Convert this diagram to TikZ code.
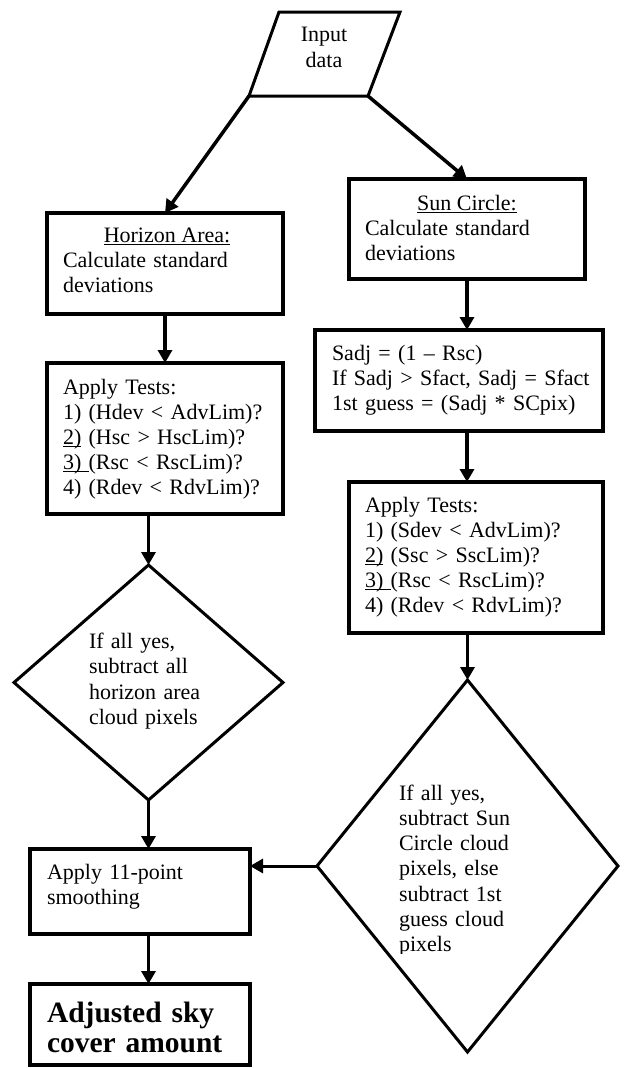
\documentclass[tikz,border=0pt]{standalone}
\usepackage{fontspec}
\setmainfont{Liberation Serif}
\usetikzlibrary{shapes.geometric,arrows.meta}
\newcommand\myul[1]{\leavevmode\setbox0=\hbox{#1}\rlap{\rule[-3pt]{\wd0}{1.5pt}}\box0\relax}
\begin{document}
\begin{tikzpicture}[x=1pt,y=-1pt,
  box/.style={draw, rectangle, line width=3.5pt, inner sep=0pt, outer sep=0pt},
  dia/.style={draw, diamond, line width=3pt, inner sep=0pt, outer sep=0pt},
  txt/.style={inner sep=0pt, outer sep=0pt, anchor=base west, align=left, text width=270pt,
    font=\fontsize{22}{25}\selectfont},
  ttl/.style={inner sep=0pt, outer sep=0pt, anchor=base, font=\fontsize{22}{25}\selectfont},
  arr/.style={line width=3.5pt, -{Triangle[length=13pt,width=14pt]}}
  ]
\useasboundingbox (0,0) rectangle (626,1068);

% input parallelogram
\coordinate (ptl) at (279,12);
\coordinate (ptr) at (400,12);
\coordinate (pbr) at (368,96);
\coordinate (pbl) at (249,96);
\draw[line width=3pt, line join=miter] (ptl) -- (ptr) -- (pbr) -- (pbl) -- cycle;
\node[inner sep=0pt, anchor=base, align=center, text width=100pt, font=\fontsize{22}{26}\selectfont] (intxt) at (324,41) {Input\\data};

% boxes
\node[box, minimum width=236pt, minimum height=101pt] (hor) at (165,263.5) {};
\node[box, minimum width=236pt, minimum height=151pt] (ltest) at (165,438.5) {};
\node[box, minimum width=236pt, minimum height=100pt] (sun) at (467,229) {};
\node[box, minimum width=288pt, minimum height=101pt] (sadj) at (459,380.5) {};
\node[box, minimum width=254pt, minimum height=151pt] (rtest) at (476,557.5) {};
\node[box, minimum width=220pt, minimum height=85pt, line width=3.3pt] (smooth) at (140,891.5) {};
\node[box, minimum width=220pt, minimum height=81pt, line width=3.3pt] (result) at (140,1024.5) {};

% diamonds
\node[dia, minimum width=269pt, minimum height=235pt] (ldia) at (148.5,682.5) {};
\node[dia, minimum width=301pt, minimum height=372pt] (rdia) at (467.5,866) {};

% texts
\node[ttl] (horttl) at (167,242) {\myul{Horizon Area:}};
\node[txt] (hortxt) at (63,267) {Calculate standard\\deviations};
\node[txt] (ltesttxt) at (63,394) {Apply Tests:\\1) (Hdev < AdvLim)?\\\myul{2)} (Hsc > HscLim)?\\\myul{3)\ }(Rsc < RscLim)?\\4) (Rdev < RdvLim)?};
\node[ttl] (sunttl) at (467,210) {\myul{Sun Circle:}};
\node[txt] (suntxt) at (365,235) {Calculate standard\\deviations};
\node[txt] (sadjtxt) at (332,360) {Sadj = (1 -- Rsc)\\If Sadj > Sfact, Sadj = Sfact\\1st guess = (Sadj * SCpix)};
\node[txt] (rtesttxt) at (365,512) {Apply Tests:\\1) (Sdev < AdvLim)?\\\myul{2)} (Ssc > SscLim)?\\\myul{3)\ }(Rsc < RscLim)?\\4) (Rdev < RdvLim)?};
\node[txt, font=\fontsize{22}{25.5}\selectfont] (ldiatxt) at (89,648) {If all yes,\\subtract all\\horizon area\\cloud pixels};
\begin{scope}
\clip (300,700) rectangle (620,953);
\node[txt, font=\fontsize{22}{25.3}\selectfont] (rdiatxt) at (399,800) {If all yes,\\subtract Sun\\Circle cloud\\pixels, else\\subtract 1st\\guess cloud\\pixels};
\end{scope}
\node[txt] (smoothtxt) at (47,879) {Apply 11-point\\smoothing};
\node[txt, font=\fontsize{29.5}{30}\selectfont\bfseries] (resulttxt) at (47,1022) {Adjusted sky\\cover amount};

% connectors
\draw[arr] (pbl) -- (hor.north);
\draw[arr] (pbr) -- (sun.north);
\draw[arr] (hor.south) -- (ltest.north);
\draw[arr] (ltest.south -| ldia.north) -- (ldia.north);
\draw[arr] (ldia.south) -- (smooth.north -| ldia.south);
\draw[arr] (smooth.south -| ldia.south) -- (result.north -| ldia.south);
\draw[arr] (sun.south) -- (sadj.north -| sun.south);
\draw[arr] (sadj.south -| sun.south) -- (rtest.north -| sun.south);
\draw[arr] (rtest.south -| rdia.north) -- (rdia.north);
\draw[arr, line width=3pt] (rdia.west) -- (rdia.west -| smooth.east);
\end{tikzpicture}
\end{document}
